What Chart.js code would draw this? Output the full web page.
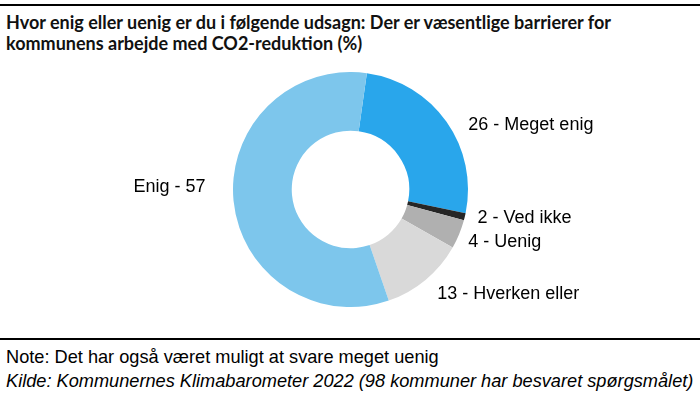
<!DOCTYPE html>
<html>
<head>
<meta charset="utf-8">
<script src="https://cdn.jsdelivr.net/npm/chart.js@4"></script>
<style>
  html, body { margin: 0; padding: 0; background: #fff; }
  #wrap { position: relative; width: 700px; height: 394px; overflow: hidden; }
  .rule { position: absolute; left: 0; width: 700px; height: 2px; background: #000; }
  #title { position: absolute; left: 6px; top: 12px; font: bold 18px Lato, sans-serif; line-height: 21px; color: #111; white-space: nowrap; }
  #chartBox { position: absolute; left: 0; top: 72px; width: 701px; height: 235px; }
  #notes { position: absolute; left: 6px; top: 345px; font: 18.2px "Liberation Sans", Arial, sans-serif; line-height: 24px; color: #000; white-space: nowrap; }
  #notes i { font-style: italic; }
</style>
</head>
<body>
<div id="wrap">
  <div class="rule" style="top:4px"></div>
  <div id="title">Hvor enig eller uenig er du i følgende udsagn: Der er væsentlige barrierer for<br>kommunens arbejde med CO2-reduktion (%)</div>
  <div id="chartBox"><canvas id="donut"></canvas></div>
  <div class="rule" style="top:338px"></div>
  <div id="notes">Note: Det har også været muligt at svare meget uenig<br><i>Kilde: Kommunernes Klimabarometer 2022 (98 kommuner har besvaret spørgsmålet)</i></div>
</div>
<script>
// categories and values
const categories = ['Meget enig', 'Ved ikke', 'Uenig', 'Hverken eller', 'Enig'];
const shownValues = [26, 2, 4, 13, 57];          // numbers printed in the labels
const sliceShares = [26, 1, 4, 11.5, 57.5];      // slice sizes as drawn in the picture
const colors = ['#29a6eb', '#262626', '#b0b0b0', '#d9d9d9', '#7dc6ec'];
const labelTexts = categories.map((c, i) => c === 'Enig' ? c + ' - ' + shownValues[i] : shownValues[i] + ' - ' + c);
// small label nudges [dx, dy]
const labelNudge = [[12, 10], [1, -1], [-2, 3], [4, 5], [-16, -15]];

const outsideLabels = {
  id: 'outsideLabels',
  afterDatasetsDraw(chart) {
    const ctx = chart.ctx;
    const meta = chart.getDatasetMeta(0);
    ctx.save();
    ctx.font = '18px "Liberation Sans", Arial, sans-serif';
    ctx.fillStyle = '#000';
    ctx.textBaseline = 'middle';
    meta.data.forEach((arc, i) => {
      const p = arc.getProps(['x', 'y', 'startAngle', 'endAngle', 'outerRadius'], true);
      const mid = (p.startAngle + p.endAngle) / 2;
      const r = p.outerRadius + 12;
      const x = p.x + Math.cos(mid) * r + labelNudge[i][0];
      const y = p.y + Math.sin(mid) * r + labelNudge[i][1];
      ctx.textAlign = Math.cos(mid) >= 0 ? 'left' : 'right';
      ctx.fillText(labelTexts[i], x, y);
    });
    ctx.restore();
  }
};

new Chart(document.getElementById('donut').getContext('2d'), {
  type: 'doughnut',
  data: {
    labels: categories,
    datasets: [{
      data: sliceShares,
      backgroundColor: colors,
      borderWidth: 0,
      hoverOffset: 0,
      offset: 0
    }]
  },
  options: {
    responsive: true,
    maintainAspectRatio: false,
    animation: false,
    cutout: '50%',
    rotation: 8,
    layout: { padding: 0 },
    plugins: {
      legend: { display: false },
      tooltip: { enabled: false }
    }
  },
  plugins: [outsideLabels]
});
</script>
</body>
</html>
